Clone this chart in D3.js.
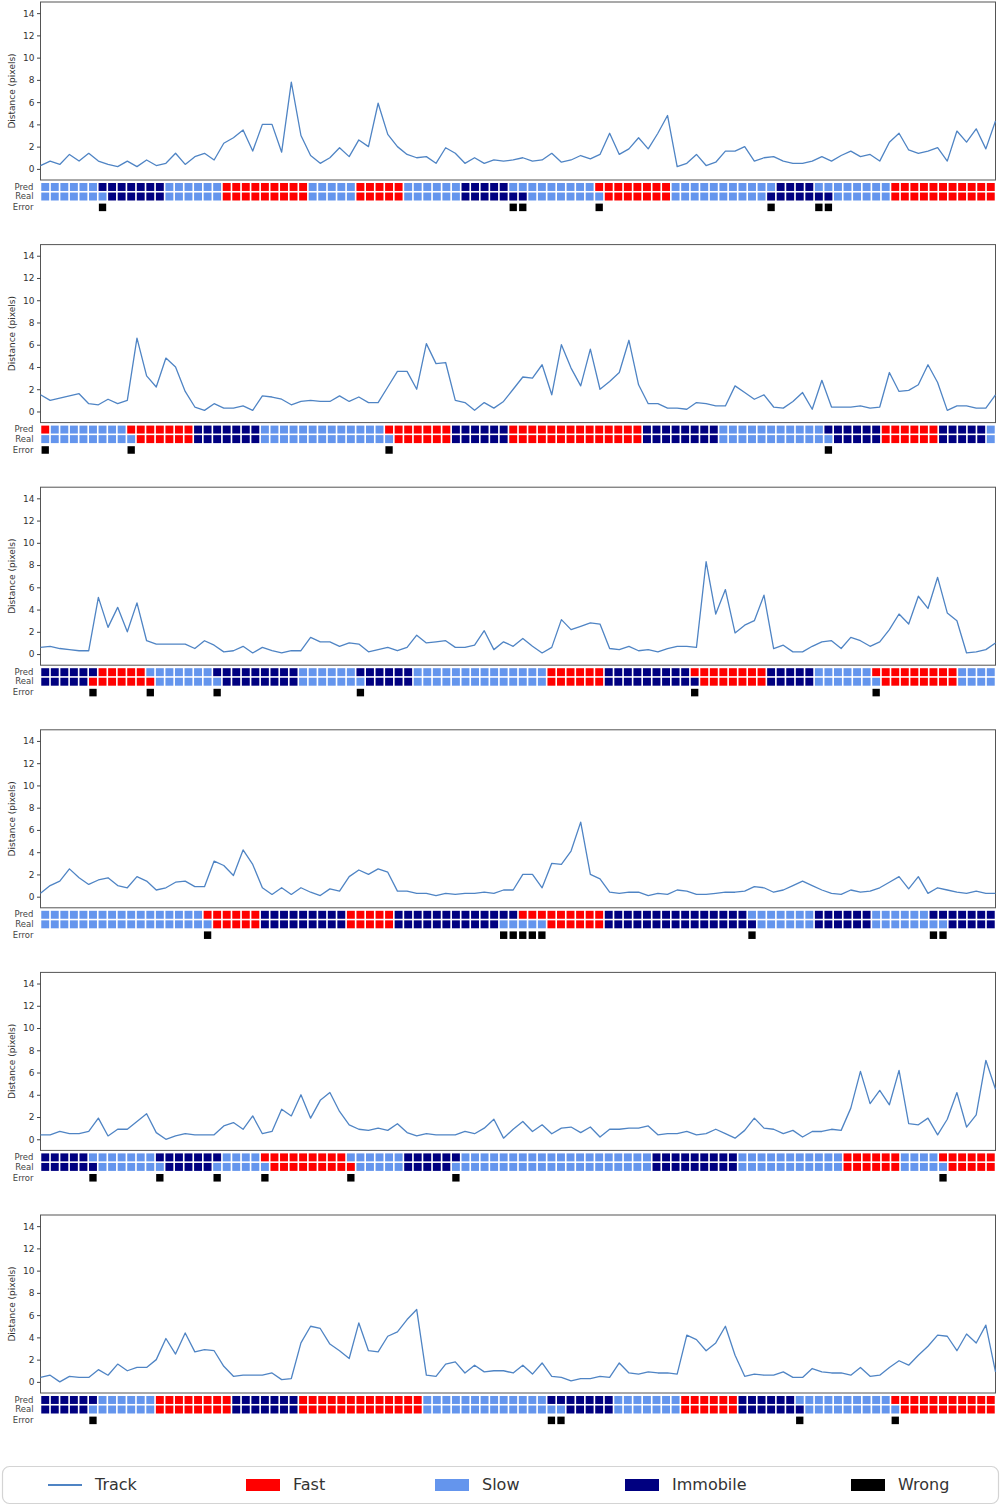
<!DOCTYPE html>
<html>
<head>
<meta charset="utf-8">
<script src="https://cdn.jsdelivr.net/npm/d3@7"></script>
<style>
  body { margin: 0; background: #fff; }
  svg { display: block; font-family: "DejaVu Sans", sans-serif; }
</style>
</head>
<body>
<svg id="chart" width="1001" height="1505"></svg>
<script>
// ---- data -------------------------------------------------------------
const yTicks = [0, 2, 4, 6, 8, 10, 12, 14];
const rowLabels = ["Pred", "Real", "Error"];
const legendLabels = ["Track", "Fast", "Slow", "Immobile", "Wrong"];

// Per-step travelled distance (pixels) for each track
const track1 = [
  0.3,0.7,0.4,1.3,0.7,1.4,0.7,0.4,0.2,0.7,
  0.2,0.8,0.3,0.5,1.4,0.4,1.1,1.4,0.8,2.3,
  2.8,3.5,1.6,4.0,4.0,1.5,7.8,3.0,1.2,0.5,
  1.0,1.9,1.1,2.6,2.0,5.9,3.1,2.0,1.3,1.0,
  1.1,0.5,1.9,1.4,0.5,1.0,0.5,0.8,0.7,0.8,
  1.0,0.7,0.8,1.4,0.6,0.8,1.2,0.9,1.3,3.2,
  1.3,1.8,2.8,1.8,3.2,4.8,0.2,0.5,1.3,0.3,
  0.6,1.6,1.6,2.0,0.7,1.0,1.1,0.7,0.5,0.5,
  0.7,1.1,0.7,1.2,1.6,1.1,1.3,0.7,2.4,3.2,
  1.7,1.4,1.6,1.9,0.7,3.4,2.4,3.6,1.8,4.3];
const track2 = [
  1.5,1.0,1.2,1.4,1.6,0.7,0.6,1.1,0.7,1.0,
  6.6,3.2,2.2,4.8,4.0,1.8,0.4,0.1,0.7,0.3,
  0.3,0.5,0.1,1.4,1.3,1.1,0.6,0.9,1.0,0.9,
  0.9,1.4,0.9,1.3,0.8,0.8,2.2,3.6,3.6,2.0,
  6.1,4.3,4.4,1.0,0.8,0.1,0.8,0.3,0.9,2.0,
  3.1,3.0,4.2,1.5,6.0,3.9,2.3,5.6,2.0,2.7,
  3.5,6.4,2.4,0.7,0.7,0.3,0.3,0.2,0.8,0.7,
  0.5,0.5,2.3,1.7,1.1,1.5,0.4,0.3,0.9,1.7,
  0.2,2.8,0.4,0.4,0.4,0.5,0.3,0.4,3.5,1.8,
  1.9,2.4,4.2,2.6,0.1,0.5,0.5,0.3,0.3,1.5];
const track3 = [
  0.6,0.7,0.5,0.4,0.3,0.3,5.1,2.4,4.2,2.0,
  4.6,1.2,0.9,0.9,0.9,0.9,0.5,1.2,0.8,0.2,
  0.3,0.7,0.1,0.6,0.3,0.1,0.3,0.3,1.5,1.1,
  1.1,0.7,1.0,0.9,0.2,0.4,0.6,0.3,0.6,1.7,
  1.0,1.1,1.2,0.6,0.6,0.8,2.1,0.4,1.1,0.7,
  1.4,0.7,0.1,0.6,3.1,2.2,2.5,2.8,2.7,0.5,
  0.4,0.7,0.3,0.4,0.2,0.5,0.7,0.7,0.6,8.3,
  3.6,5.8,1.9,2.6,3.0,5.3,0.5,0.8,0.2,0.2,
  0.7,1.1,1.2,0.5,1.5,1.2,0.7,1.1,2.2,3.6,
  2.7,5.2,4.1,6.9,3.7,3.0,0.1,0.2,0.4,1.0];
const track4 = [
  0.3,1.0,1.4,2.5,1.7,1.1,1.5,1.7,1.0,0.8,
  1.8,1.4,0.6,0.8,1.3,1.4,0.9,0.9,3.2,2.8,
  1.9,4.2,2.9,0.8,0.2,0.8,0.2,0.8,0.4,0.1,
  0.7,0.5,1.8,2.4,2.0,2.5,2.2,0.5,0.5,0.3,
  0.3,0.1,0.3,0.2,0.3,0.3,0.4,0.3,0.6,0.6,
  2.0,2.0,0.8,3.0,2.9,4.1,6.7,2.0,1.6,0.4,
  0.3,0.4,0.4,0.1,0.3,0.2,0.6,0.5,0.2,0.2,
  0.3,0.4,0.4,0.5,0.9,0.8,0.4,0.6,1.0,1.4,
  1.0,0.6,0.3,0.2,0.6,0.4,0.5,0.8,1.3,1.8,
  0.7,1.8,0.3,0.8,0.6,0.4,0.3,0.5,0.3,0.3];
const track5 = [
  0.4,0.4,0.7,0.5,0.5,0.7,1.9,0.3,0.9,0.9,
  1.6,2.3,0.6,0.0,0.3,0.5,0.4,0.4,0.4,1.2,
  1.5,0.9,2.1,0.5,0.7,2.7,2.1,4.0,1.9,3.5,
  4.2,2.5,1.3,0.9,0.8,1.0,0.8,1.4,0.6,0.3,
  0.5,0.4,0.4,0.4,0.7,0.5,1.0,1.8,0.1,0.9,
  1.6,0.7,1.3,0.5,1.0,1.1,0.6,1.1,0.2,0.9,
  0.9,1.0,1.0,1.2,0.4,0.5,0.5,0.7,0.4,0.5,
  0.9,0.5,0.1,0.8,1.9,1.0,0.9,0.5,0.8,0.2,
  0.7,0.7,0.9,0.8,2.8,6.1,3.2,4.4,3.1,6.2,
  1.4,1.3,1.9,0.4,1.8,4.2,1.1,2.2,7.1,4.5];
const track6 = [
  0.4,0.6,0.0,0.5,0.4,0.4,1.1,0.6,1.6,1.0,
  1.3,1.3,2.0,3.9,2.5,4.4,2.7,2.9,2.8,1.4,
  0.5,0.6,0.6,0.6,0.8,0.2,0.3,3.5,5.0,4.8,
  3.4,2.8,2.1,5.3,2.8,2.7,4.1,4.5,5.6,6.5,
  0.6,0.5,1.6,1.8,0.8,1.5,0.9,1.0,1.0,0.8,
  1.5,0.7,1.7,0.5,0.4,0.1,0.3,0.3,0.5,0.4,
  1.7,0.8,0.7,0.9,0.8,0.8,0.7,4.2,3.8,2.8,
  3.5,5.0,2.4,0.5,0.7,0.6,0.6,0.9,0.4,0.4,
  1.2,0.9,0.8,0.8,0.6,1.3,0.5,0.6,1.3,1.9,
  1.5,2.4,3.2,4.2,4.1,2.8,4.3,3.5,5.1,0.9];

// Motion classes per step, run-length coded: F = Fast, S = Slow, I = Immobile
const pred1 = "S6 I7 S6 F9 S5 F5 S6 I5 S9 F8 S11 I4 S8 F11";
const real1 = "S7 I6 S6 F9 S5 F5 S6 I7 S8 F7 S10 I7 S6 F11";
const pred2 = "F1 S8 F7 I7 S13 F7 I6 F14 I8 S11 I6 F6 I5 S1";
const real2 = "S10 F6 I7 S14 F6 I6 F14 I8 S12 I5 F6 I5 S1";
const pred3 = "I6 F5 S7 I9 S6 I6 S14 F6 I9 F8 I5 S6 F9 S4";
const real3 = "I5 F7 S7 I8 S7 I5 S14 F6 I10 F7 I5 S7 F8 S4";
const pred4 = "S17 F6 I9 F5 I13 F9 I15 S7 I6 S6 I7";
const real4 = "S18 F5 I9 F5 I11 S5 F6 I16 S6 I6 S8 I5";
const pred5 = "I5 S7 I7 S4 F9 S6 I6 S20 I9 S11 F6 S4 F6";
const real5 = "I6 S7 I5 S6 F9 S5 I5 S21 I9 S11 F6 S5 F5";
const pred6 = "I6 S6 F8 I7 F13 S13 I7 S7 F6 I6 S10 F11";
const real6 = "I5 S7 F8 I7 F13 S15 I5 S7 F6 I7 S10 F10";

// ---- styling ----------------------------------------------------------
const classColor = { F: "#ff0000", S: "#6495ed", I: "#000080" };
const wrongColor = "#000000";
const lineColor = "#4f84c4";

const expandRuns = s => s.split(" ").flatMap(t => Array(+t.slice(1)).fill(t[0]));

const panels = [
  { track: track1, pred: pred1, real: real1 },
  { track: track2, pred: pred2, real: real2 },
  { track: track3, pred: pred3, real: real3 },
  { track: track4, pred: pred4, real: real4 },
  { track: track5, pred: pred5, real: real5 },
  { track: track6, pred: pred6, real: real6 }
].map(p => {
  const pred = expandRuns(p.pred), real = expandRuns(p.real);
  return { track: p.track, pred, real, wrong: pred.map((c, i) => c !== real[i]) };
});

const svg = d3.select("#chart");
const left = 40.5, right = 995.5;
const plotH = 178, panelStep = 242.6, firstTop = 2;
const cellPitch = 9.55;

const x = d3.scaleLinear().domain([0, 99]).range([left, right]);
const xb = d3.scaleBand().domain(d3.range(100)).range([left, right])
  .paddingInner(0.17).paddingOuter(0.08);

panels.forEach((p, k) => {
  const top = firstTop + panelStep * k;
  const g = svg.append("g");
  const y = d3.scaleLinear().domain([-1, 15]).range([top + plotH, top]);

  // frame
  g.append("rect")
    .attr("x", left).attr("y", top)
    .attr("width", right - left).attr("height", plotH)
    .attr("fill", "none").attr("stroke", "#555").attr("stroke-width", 1);

  // y axis
  const ax = g.append("g")
    .attr("transform", `translate(${left},0)`)
    .call(d3.axisLeft(y).tickValues(yTicks).tickSize(3.5).tickPadding(2.5));
  ax.select(".domain").remove();
  ax.selectAll("line").attr("stroke", "#444");
  ax.selectAll("text").attr("font-size", 9).attr("fill", "#333")
    .attr("font-family", '"DejaVu Sans", sans-serif');

  g.append("text")
    .attr("transform", `translate(12,${top + plotH / 2}) rotate(-90)`)
    .attr("text-anchor", "middle").attr("dominant-baseline", "middle")
    .attr("font-size", 9).attr("fill", "#333")
    .text("Distance (pixels)");

  // track line
  g.append("path")
    .datum(p.track)
    .attr("fill", "none").attr("stroke", lineColor).attr("stroke-width", 1.3)
    .attr("stroke-linejoin", "round")
    .attr("d", d3.line().x((d, i) => x(i)).y(d => y(d)));

  // class strips
  const rowTop = [top + plotH + 2.3, top + plotH + 2.3 + cellPitch, top + plotH + 2.3 + 2 * cellPitch + 1.5];
  [p.pred, p.real].forEach((row, r) => {
    g.append("g").selectAll("rect")
      .data(row)
      .join("rect")
      .attr("x", (d, i) => xb(i))
      .attr("y", rowTop[r] + 0.7)
      .attr("width", xb.bandwidth())
      .attr("height", cellPitch - 1.6)
      .attr("fill", d => classColor[d]);
  });
  g.append("g").selectAll("rect")
    .data(p.wrong.map((w, i) => ({ w, i })).filter(d => d.w))
    .join("rect")
    .attr("x", d => xb(d.i) + 0.3)
    .attr("y", rowTop[2] + 0.7)
    .attr("width", xb.bandwidth() - 0.6)
    .attr("height", cellPitch - 2)
    .attr("fill", wrongColor);

  rowLabels.forEach((lab, r) => {
    g.append("text")
      .attr("x", 33.5).attr("y", rowTop[r] + cellPitch / 2)
      .attr("text-anchor", "end").attr("dominant-baseline", "middle")
      .attr("font-size", 8.5).attr("fill", "#444")
      .text(lab);
  });
});

// ---- legend -----------------------------------------------------------
const lg = svg.append("g");
lg.append("rect")
  .attr("x", 2.5).attr("y", 1466.5).attr("width", 996).attr("height", 37)
  .attr("rx", 7).attr("fill", "#fff").attr("stroke", "#d4d4d4").attr("stroke-width", 1.2);

const legendX = [48, 246, 435, 625, 851];
const legendSwatch = [null, classColor.F, classColor.S, classColor.I, wrongColor];
const ly = 1485;
legendLabels.forEach((lab, i) => {
  const x0 = legendX[i];
  if (i === 0) {
    lg.append("line").attr("x1", x0).attr("x2", x0 + 34).attr("y1", ly).attr("y2", ly)
      .attr("stroke", lineColor).attr("stroke-width", 2);
  } else {
    lg.append("rect").attr("x", x0).attr("y", ly - 6).attr("width", 34).attr("height", 12)
      .attr("fill", legendSwatch[i]);
  }
  lg.append("text").attr("x", x0 + 47).attr("y", ly)
    .attr("dominant-baseline", "middle").attr("font-size", 16).attr("fill", "#333")
    .text(lab);
});
</script>
</body>
</html>
